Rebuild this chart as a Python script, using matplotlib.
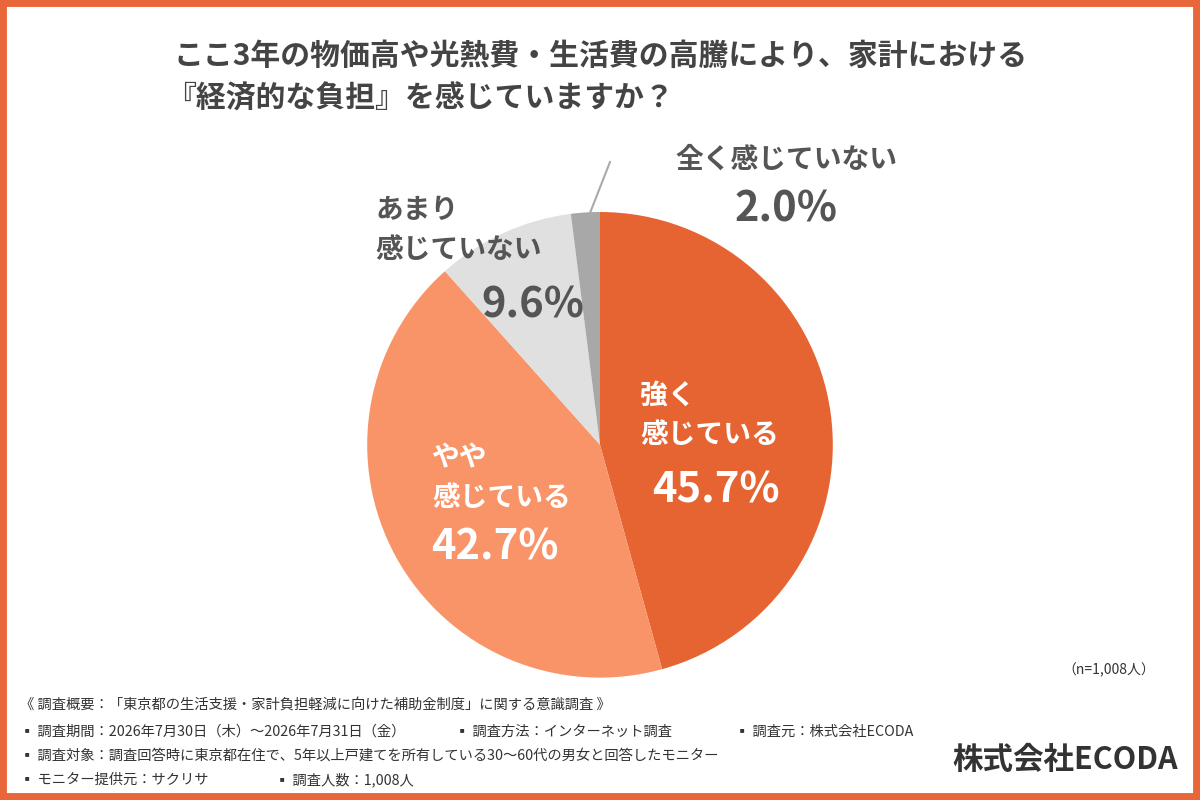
import matplotlib.pyplot as plt
from matplotlib.patches import Rectangle

plt.rcParams['font.family'] = ['Noto Sans CJK JP', 'DejaVu Sans']

labels = ["強く\n感じている", "やや\n感じている", "あまり\n感じていない", "全く感じていない"]
values = [45.7, 42.7, 9.6, 2.0]
colors = ["#E66432", "#F99468", "#E0E0E0", "#A8A8A8"]

fig = plt.figure(figsize=(12, 8), dpi=100)
fig.patch.set_facecolor("white")
fig.add_artist(Rectangle((0, 0), 1, 1, transform=fig.transFigure, fill=False,
                         edgecolor="#E8663A", linewidth=10))

ax = fig.add_axes([0.5 - 0.194, 0.444 - 0.29125, 0.388, 0.5825])
ax.pie(values, colors=colors, startangle=90, counterclock=False,
       wedgeprops=dict(edgecolor="white", linewidth=0))
ax.set_xlim(-1, 1)
ax.set_ylim(-1, 1)
ax.set_aspect("equal")

fig.text(0.145, 0.93, "ここ3年の物価高や光熱費・生活費の高騰により、家計における",
         fontsize=21.5, fontweight="bold", color="#444444", va="center")
fig.text(0.138, 0.877, "『経済的な負担』を感じていますか？",
         fontsize=21.5, fontweight="bold", color="#444444", va="center")

def put(px, py, txt, color):
    fig.text(px / 1200, 1 - py / 800, txt, fontsize=20, fontweight="bold",
             color=color, ha="left", va="center", linespacing=1.5)

def pct(px, py, txt, color):
    fig.text(px / 1200, 1 - py / 800, txt, fontsize=30, fontweight="bold",
             color=color, ha="center", va="center")

put(640, 415, "強く\n感じている", "white")
pct(716, 490, "45.7%", "white")
put(432, 478, "やや\n感じている", "white")
pct(495, 548, "42.7%", "white")
put(375, 230, "あまり\n感じていない", "#555555")
pct(533, 305, "9.6%", "#555555")
fig.text(786 / 1200, 1 - 160 / 800, "全く感じていない", fontsize=20,
         fontweight="bold", color="#555555", ha="center", va="center")
pct(786, 210, "2.0%", "#555555")
fig.add_artist(plt.Line2D([590 / 1200, 610 / 1200], [1 - 213 / 800, 1 - 162 / 800],
                          transform=fig.transFigure, color="#AAAAAA", linewidth=1.5))

fig.text(1155 / 1200, 1 - 670 / 800, "（n=1,008人）", fontsize=10,
         color="#333333", ha="right", va="center")

notes = [
    (20, 705, "《 調査概要：「東京都の生活支援・家計負担軽減に向けた補助金制度」に関する意識調査 》"),
    (20, 732, "▪ 調査期間：2026年7月30日（木）～2026年7月31日（金）"),
    (455, 732, "▪ 調査方法：インターネット調査"),
    (735, 732, "▪ 調査元：株式会社ECODA"),
    (20, 756, "▪ 調査対象：調査回答時に東京都在住で、5年以上戸建てを所有している30〜60代の男女と回答したモニター"),
    (20, 780, "▪ モニター提供元：サクリサ"),
    (275, 780, "▪ 調査人数：1,008人"),
]
for px, py, t in notes:
    fig.text(px / 1200, 1 - py / 800, t, fontsize=10.3, color="#333333",
             ha="left", va="center")

fig.text(1178 / 1200, 1 - 760 / 800, "株式会社ECODA", fontsize=22,
         fontweight="bold", color="#333333", ha="right", va="center")

fig.savefig("out.png", dpi=100)
